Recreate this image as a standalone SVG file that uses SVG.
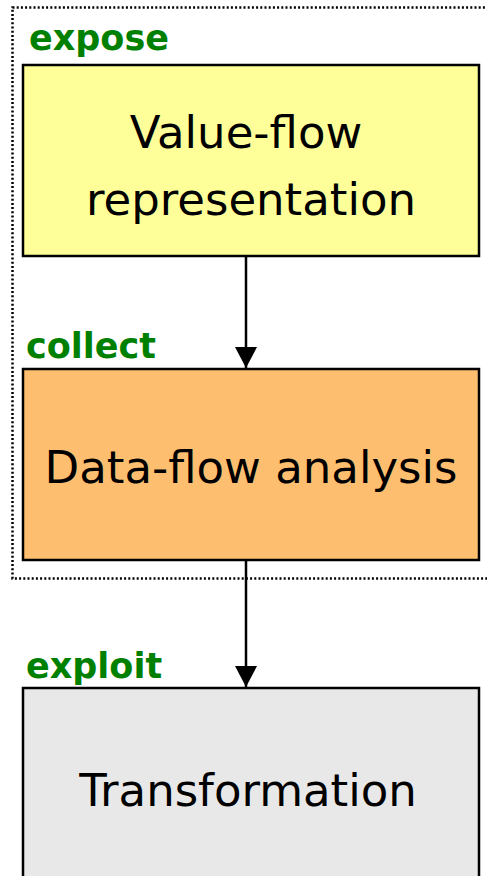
<svg xmlns="http://www.w3.org/2000/svg" width="487" height="876" viewBox="0 0 487 876">
  <defs>
    <marker id="arrowhead" markerWidth="24" markerHeight="22" refX="21" refY="11" orient="auto" markerUnits="userSpaceOnUse">
      <path d="M0,0 L21,11 L0,22 Z" fill="#000"/>
    </marker>
  </defs>
  <style>
    .box { stroke: #000; stroke-width: 2.5; }
    .title { font-family: "DejaVu Sans", "Noto Sans", sans-serif; font-size: 45px; fill: #000; text-anchor: middle; }
    .tag { font-family: "DejaVu Sans", "Noto Sans", sans-serif; font-size: 35px; font-weight: bold; fill: #008000; }
    .edge { stroke: #000; stroke-width: 2.5; fill: none; }
  </style>

  <!-- dotted frame around the expose/collect stages -->
  <rect id="frame" x="12.5" y="7.5" width="500" height="571" fill="none" stroke="#000" stroke-width="2.5" stroke-dasharray="2 2.2"/>

  <g id="expose">
    <text class="tag" x="29" y="50">expose</text>
    <rect class="box" x="23" y="65" width="456" height="191" fill="#ffff99"/>
    <text class="title" x="246" y="148">Value-flow</text>
    <text class="title" x="251" y="215">representation</text>
  </g>

  <g id="collect">
    <text class="tag" x="26" y="358">collect</text>
    <rect class="box" x="23" y="369" width="456" height="191" fill="#fdbf6f"/>
    <text class="title" x="251" y="483">Data-flow analysis</text>
  </g>

  <g id="exploit">
    <text class="tag" x="26" y="678">exploit</text>
    <rect class="box" x="23" y="688" width="456" height="200" fill="#e8e8e8"/>
    <text class="title" x="248" y="806">Transformation</text>
  </g>

  <g id="connectors">
    <line class="edge" x1="246" y1="256" x2="246" y2="368" marker-end="url(#arrowhead)"/>
    <line class="edge" x1="246" y1="560" x2="246" y2="687" marker-end="url(#arrowhead)"/>
  </g>
</svg>
